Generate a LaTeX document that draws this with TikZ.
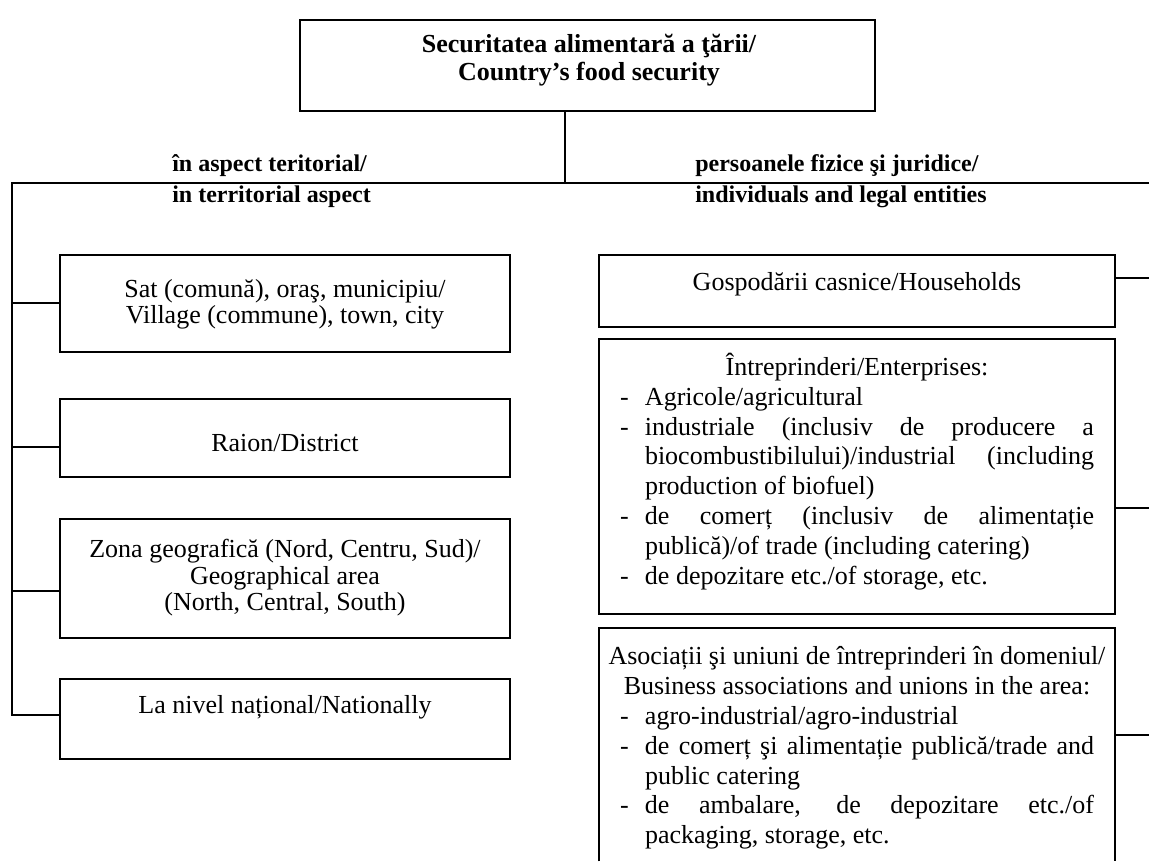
\documentclass[tikz,border=0pt]{standalone}
\usepackage{fontspec}
\setmainfont{Liberation Serif}
\tikzset{
  ln/.style={line width=1.2pt},
  box/.style={draw, line width=1.2pt, rectangle, inner sep=0pt},
  txt/.style={align=center, inner sep=0pt, font=\fontsize{19.5}{19.8}\selectfont},
  col/.style={text width=355.5pt, align=justify, inner sep=0pt,
    font=\fontsize{19.5}{22.4}\selectfont},
  lbl/.style={anchor=base west, inner sep=0pt, font=\fontsize{18}{20.25}\selectfont\bfseries},
  ttl/.style={align=center, inner sep=0pt, font=\fontsize{19.5}{21}\selectfont\bfseries},
}
\newcommand{\itm}[1]{\par\hangindent=18.75pt\hangafter=1\noindent\makebox[18.75pt][l]{-}#1}
\begin{document}
\begin{tikzpicture}[x=0.75pt,y=-0.75pt]
\path[use as bounding box] (0,0) rectangle (1149,861);
% title
\node[box, minimum width=431.25pt, minimum height=68.25pt] (top) at (587.5,65.5) {};
\node[ttl] (toptxt) at (589,60) {Securitatea alimentară a ţării/\\Country's food security};
% main line
\coordinate (HL) at (12,183);
\coordinate (HR) at (1149,183);
\coordinate (J) at (565,183);
% labels
\node[lbl] (lblL1) at (172,171) {în aspect teritorial/};
\node[lbl] (lblL2) at (172,202) {in territorial aspect};
\node[lbl] (lblR1) at (695,171) {persoanele fizice şi juridice/};
\node[lbl] (lblR2) at (695,202) {individuals and legal entities};
% left boxes
\node[box, minimum width=337.5pt, minimum height=72.75pt] (b1) at (285,303.5) {};
\node[txt] (t1) at (285,304) {Sat (comună), oraş, municipiu/\\Village (commune), town, city};
\node[box, minimum width=337.5pt, minimum height=58.5pt] (b2) at (285,438) {};
\node[txt] (t2) at (285,443) {Raion/District};
\node[box, minimum width=337.5pt, minimum height=89.25pt] (b3) at (285,578.5) {};
\node[txt] (t3) at (285,578) {Zona geografică (Nord, Centru, Sud)/\\Geographical area\\(North, Central, South)};
\node[box, minimum width=337.5pt, minimum height=60pt] (b4) at (285,719) {};
\node[txt] (t4) at (285,707) {La nivel național/Nationally};
% right boxes
\node[box, minimum width=387pt, minimum height=54pt] (r1) at (857,291) {};
\node[txt] (s1) at (857,284) {Gospodării casnice/Households};
\node[box, minimum width=387pt, minimum height=206.25pt] (r2) at (857,476.5) {};
\node[col] (s2) at (857,471.5) {\hyphenpenalty=10000 \exhyphenpenalty=10000 \tolerance=10000 \parindent=0pt
\makebox[\hsize][c]{Întreprinderi/Enterprises:}
\itm{Agricole/agricultural}
\itm{industriale (inclusiv de producere a\linebreak biocombustibilului)/industrial (including\linebreak production of biofuel)}
\itm{de comerț (inclusiv de alimentație\linebreak publică)/of trade (including catering)}
\itm{de depozitare etc./of storage, etc.}\par};
\node[minimum width=387pt, minimum height=174.75pt, inner sep=0pt] (r3) at (857,744.5) {};
\draw[ln] (r3.south west) -- (r3.north west) -- (r3.north east) -- (r3.south east);
\node[col] (s3) at (857,748) {\hyphenpenalty=10000 \exhyphenpenalty=10000 \tolerance=10000 \parindent=0pt
\makebox[\hsize][c]{Asociații şi uniuni de întreprinderi în domeniul/}
\par\noindent\makebox[\hsize][c]{Business associations and unions in the area:}
\itm{agro-industrial/agro-industrial}
\itm{de comerț şi alimentație publică/trade and\linebreak public catering}
\itm{de ambalare, de depozitare etc./of\linebreak packaging, storage, etc.}\par};
% connector heights
\coordinate (c1) at (0,303);
\coordinate (c2) at (0,447);
\coordinate (c3) at (0,591);
\coordinate (c4) at (0,715);
\coordinate (d1) at (0,278);
\coordinate (d2) at (0,508);
\coordinate (d3) at (0,735);
% connectors
\draw[ln] (J |- top.south) -- (J);
\draw[ln] (HR) -- (HL) -- (HL |- c4) -- (b4.west |- c4);
\draw[ln] (HL |- c1) -- (b1.west |- c1);
\draw[ln] (HL |- c2) -- (b2.west |- c2);
\draw[ln] (HL |- c3) -- (b3.west |- c3);
\draw[ln] (r1.east |- d1) -- (HR |- d1);
\draw[ln] (r2.east |- d2) -- (HR |- d2);
\draw[ln] (r3.east |- d3) -- (HR |- d3);
\end{tikzpicture}
\end{document}
